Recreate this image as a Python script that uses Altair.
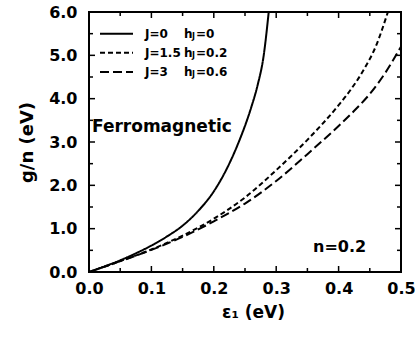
import altair as alt
import pandas as pd

# ---- data ----
x_j0 = [0, 0.025, 0.05, 0.075, 0.1, 0.125, 0.15, 0.175, 0.2, 0.22, 0.24, 0.26, 0.27, 0.28, 0.288]
y_j0 = [0, 0.13, 0.27, 0.43, 0.61, 0.82, 1.07, 1.41, 1.86, 2.36, 3.00, 3.80, 4.30, 5.00, 6.0]

x_j15 = [0, 0.05, 0.1, 0.15, 0.2, 0.25, 0.3, 0.35, 0.4, 0.42, 0.44, 0.46, 0.479]
y_j15 = [0, 0.25, 0.52, 0.84, 1.23, 1.72, 2.35, 3.05, 3.85, 4.22, 4.66, 5.22, 6.0]

x_j3 = [0, 0.05, 0.1, 0.15, 0.2, 0.25, 0.3, 0.35, 0.375, 0.4, 0.425, 0.45, 0.475, 0.5]
y_j3 = [0, 0.25, 0.51, 0.81, 1.17, 1.58, 2.10, 2.72, 3.04, 3.37, 3.72, 4.11, 4.60, 5.20]

series_names = ["J=0", "J=1.5", "J=3"]
h_values = ["=0", "=0.2", "=0.6"]

x_major = [0.0, 0.1, 0.2, 0.3, 0.4, 0.5]
x_minor = [0.05, 0.15, 0.25, 0.35, 0.45]
y_major = [0, 1, 2, 3, 4, 5, 6]
y_minor = [0.5, 1.5, 2.5, 3.5, 4.5, 5.5]

W, H = 312, 260
FONT = "DejaVu Sans"

rows = []
for name, xs, ys in [("J=0", x_j0, y_j0), ("J=1.5", x_j15, y_j15), ("J=3", x_j3, y_j3)]:
    for i, (a, b) in enumerate(zip(xs, ys)):
        rows.append({"series": name, "x": a, "y": b, "order": i})
df = pd.DataFrame(rows)

xscale = alt.Scale(domain=[0, 0.5], nice=False, zero=False)
yscale = alt.Scale(domain=[0, 6], nice=False, zero=False)

dash_scale = alt.Scale(domain=series_names, range=[[1, 0], [5, 3], [9, 4]])

lines = alt.Chart(df).mark_line(color="black", strokeWidth=2, clip=True, interpolate="monotone").encode(
    x=alt.X("x:Q", scale=xscale,
            axis=alt.Axis(values=x_major, format=".1f", ticks=False, grid=False,
                          labelFont=FONT, labelFontSize=16, labelFontWeight="bold",
                          labelColor="black", labelPadding=8, domain=False, labelFlush=False,
                          title="ε₁  (eV)", titleFont=FONT, titleFontSize=17,
                          titleFontWeight="bold", titleColor="black",
                          titleX=164, titleY=40, titleBaseline="middle",
                          titleAnchor="start", titleAlign="center")),
    y=alt.Y("y:Q", scale=yscale,
            axis=alt.Axis(values=y_major, format=".1f", ticks=False, grid=False,
                          labelFont=FONT, labelFontSize=16, labelFontWeight="bold",
                          labelColor="black", labelPadding=12, domain=False, labelFlush=False,
                          title="g/n  (eV)", titleFont=FONT, titleFontSize=18,
                          titleFontWeight="bold", titleColor="black",
                          titleX=-62, titleY=130, titleBaseline="middle",
                          titleAlign="center", titleAngle=270)),
    strokeDash=alt.StrokeDash("series:N", scale=dash_scale, legend=None),
    detail="series:N",
    order="order:Q",
)

def rules_x(vals, y0, y1):
    return alt.Chart(pd.DataFrame({"v": vals})).mark_rule(color="black", strokeWidth=1.5).encode(
        x=alt.X("v:Q", scale=xscale), y=alt.value(y0), y2=alt.value(y1))

def rules_y(vals, x0, x1):
    return alt.Chart(pd.DataFrame({"v": vals})).mark_rule(color="black", strokeWidth=1.5).encode(
        y=alt.Y("v:Q", scale=yscale), x=alt.value(x0), x2=alt.value(x1))

tick_layers = [
    rules_x(x_major, H, H - 6), rules_x(x_minor, H, H - 4),
    rules_x(x_major, 0, 6), rules_x(x_minor, 0, 4),
    rules_y(y_major, 0, 6), rules_y(y_minor, 0, 4),
    rules_y(y_major, W, W - 6), rules_y(y_minor, W, W - 4),
]

# manual legend
leg_y = [21.7, 40.7, 60]
leg_dash = [[1, 0], [5, 3], [9, 4]]

def text_at(t, x, y, size):
    return alt.Chart(pd.DataFrame({"t": [t]})).mark_text(
        font=FONT, fontSize=size, fontWeight="bold", align="left", baseline="middle", color="black"
    ).encode(text="t:N", x=alt.value(x), y=alt.value(y))

legend_layers = []
for i, name in enumerate(series_names):
    legend_layers.append(
        alt.Chart(pd.DataFrame({"s": [name]})).mark_rule(color="black", strokeWidth=2, strokeDash=leg_dash[i]).encode(
            x=alt.value(11), x2=alt.value(44), y=alt.value(leg_y[i]))
    )
    legend_layers.append(text_at(name, 56, leg_y[i], 12))
    legend_layers.append(text_at("h", 95, leg_y[i], 12))
    legend_layers.append(text_at("J", 103, leg_y[i] + 3, 8))
    legend_layers.append(text_at(h_values[i], 107, leg_y[i], 12))

ferro = text_at("Ferromagnetic", 3, 115, 17)
nlab = text_at("n=0.2", 224, 235, 16)

chart = alt.layer(
    lines, *tick_layers, *legend_layers, ferro, nlab
).properties(
    width=W, height=H,
    autosize=alt.AutoSizeParams(type="none"),
    padding={"left": 89, "top": 12, "right": 14, "bottom": 66},
    background="white",
).configure_view(stroke="black", strokeWidth=2)

chart.save("out.html", embed_options={"renderer": "svg", "actions": False})
